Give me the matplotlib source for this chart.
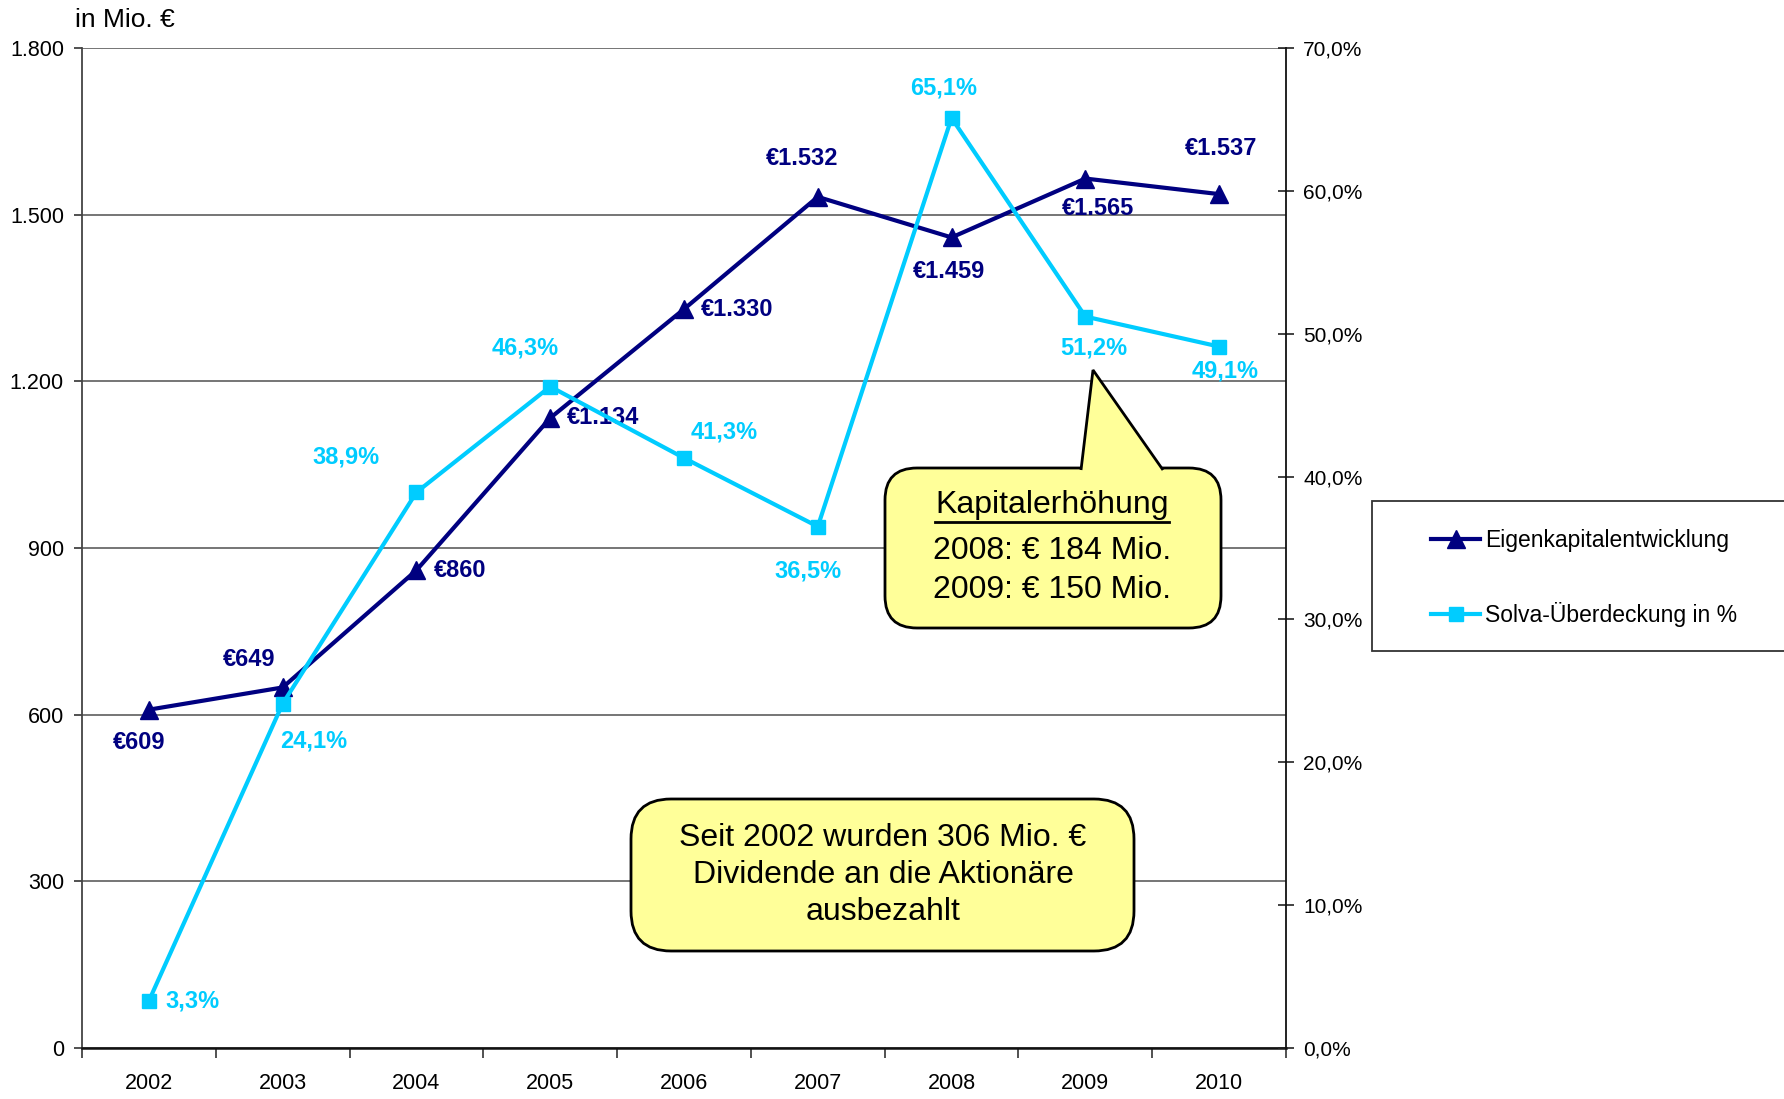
import numpy as np
import matplotlib
matplotlib.use('Agg')
import matplotlib.pyplot as plt
from matplotlib import font_manager
from matplotlib.patches import FancyBboxPatch, Polygon, Rectangle
from matplotlib.lines import Line2D
from matplotlib.transforms import IdentityTransform

# data
years = ['2002', '2003', '2004', '2005', '2006', '2007', '2008', '2009', '2010']
eigenkapital = [609, 649, 860, 1134, 1330, 1532, 1459, 1565, 1537]
solva = [3.3, 24.1, 38.9, 46.3, 41.3, 36.5, 65.1, 51.2, 49.1]
left_ticks = [0, 300, 600, 900, 1200, 1500, 1800]
right_ticks = [0, 10, 20, 30, 40, 50, 60, 70]

# label offsets in pixels (dx, dy, ha)
ek_offsets = [(-10, -33, 'center'), (-34, 28, 'center'), (17, 0, 'left'),
              (17, 1, 'left'), (17, 0, 'left'), (-16, 38, 'center'),
              (-3, -34, 'center'), (13, -30, 'center'), (2, 46, 'center')]
sv_offsets = [(17, 0, 'left'), (31, -37, 'center'), (-70, 35, 'center'),
              (-25, 39, 'center'), (40, 26, 'center'), (-10, -44, 'center'),
              (-8, 30, 'center'), (8, -31, 'center'), (6, -24, 'center')]

NAVY = '#000080'
CYAN = '#00CCFF'
YELLOW = '#FFFF99'

W, H = 1784, 1099
plt.rcParams['font.family'] = ['Liberation Sans', 'DejaVu Sans']

names = {f.name for f in font_manager.fontManager.ttflist}
if 'Liberation Sans Narrow' in names:
    lab_font = dict(family=['Liberation Sans Narrow', 'DejaVu Sans'], size=19)
else:
    lab_font = dict(family=['Liberation Sans', 'DejaVu Sans'], size=17)


def px(x, y):
    # top-left pixel coords -> display coords
    return (x, H - y)


fig = plt.figure(figsize=(W / 100, H / 100), dpi=100)
ax = fig.add_axes([82 / W, 1 - 1048 / H, (1286 - 82) / W, 1000 / H])
ax2 = ax.twinx()

x = np.arange(len(years))
ax.set_xlim(-0.5, len(years) - 0.5)
ax.set_ylim(0, 1800)
ax2.set_ylim(0, 70)

ax.set_yticks(left_ticks)
ax.set_yticklabels(['{:,}'.format(v).replace(',', '.') for v in left_ticks])
ax2.set_yticks(right_ticks)
ax2.set_yticklabels(['{:.1f}%'.format(v).replace('.', ',') for v in right_ticks])

ax.set_xticks(np.arange(-0.5, len(years)), labels=[])
ax.set_xticks(x, labels=years, minor=True)
ax.tick_params(axis='x', which='major', direction='out', length=7, width=1.2, color='#333333')
ax.tick_params(axis='x', which='minor', length=0, pad=18, labelsize=15.5)
ax.tick_params(axis='y', direction='out', length=6, width=1.2, color='#333333', pad=7, labelsize=15.5)
ax2.tick_params(axis='y', direction='inout', length=11, width=1.2, color='#222222', pad=7, labelsize=15)

ax.yaxis.grid(True, color='#6a6a6a', lw=1.3)
ax.set_axisbelow(True)
for s in ['top', 'right']:
    ax.spines[s].set_visible(False)
for s in ['top', 'left', 'bottom']:
    ax2.spines[s].set_visible(False)
ax.spines['left'].set_color('#444444')
ax.spines['left'].set_linewidth(1.3)
ax.spines['bottom'].set_color('#111111')
ax.spines['bottom'].set_linewidth(1.8)
ax2.spines['right'].set_color('#111111')
ax2.spines['right'].set_linewidth(1.3)

l1, = ax.plot(x, eigenkapital, color=NAVY, lw=3, marker='^', ms=13, zorder=3,
              label='Eigenkapitalentwicklung')
l2, = ax2.plot(x, solva, color=CYAN, lw=3, marker='s', ms=10, zorder=3,
               label='Solva-Überdeckung in %')

for xi, v, (dx, dy, ha) in zip(x, eigenkapital, ek_offsets):
    ax.annotate('€{:,}'.format(v).replace(',', '.'), (xi, v), xytext=(dx, dy),
                textcoords='offset pixels', ha=ha, va='center', color=NAVY,
                fontweight='bold', **lab_font)
for xi, v, (dx, dy, ha) in zip(x, solva, sv_offsets):
    ax2.annotate('{:.1f}%'.format(v).replace('.', ','), (xi, v), xytext=(dx, dy),
                 textcoords='offset pixels', ha=ha, va='center', color=CYAN,
                 fontweight='bold', **lab_font)

fig.text(75 / W, 1 - 20 / H, 'in Mio. €', fontsize=19, ha='left', va='center')

# legend box (clipped by the figure edge)
fig.add_artist(Rectangle(px(1372, 651), 500, 150, transform=IdentityTransform(),
                         facecolor='white', edgecolor='#333333', lw=1.3))
fig.legend(handles=[l1, l2], loc='center left', bbox_to_anchor=(1420 / W, 1 - 578 / H),
           frameon=False, fontsize=16.5, handlelength=2.1, handletextpad=0.25,
           labelspacing=2.2, borderpad=0)

# callout 1: Kapitalerhoehung
ident = IdentityTransform()
x0, y0, x1, y1 = 885, 468, 1221, 628
fig.add_artist(FancyBboxPatch(px(x0, y1), x1 - x0, y1 - y0,
                              boxstyle='round,pad=0,rounding_size=32',
                              transform=ident, facecolor=YELLOW, edgecolor='black', lw=2))
fig.add_artist(Polygon([px(1081, 470), px(1093, 370), px(1163, 470)], closed=False,
                       transform=ident, facecolor=YELLOW, edgecolor='black', lw=2))
t_head = fig.text(1052 / W, 1 - 505 / H, 'Kapitalerhöhung', fontsize=23, ha='center', va='center')
fig.text(1052 / W, 1 - 551 / H, '2008: € 184 Mio.', fontsize=23, ha='center', va='center')
fig.text(1052 / W, 1 - 590 / H, '2009: € 150 Mio.', fontsize=23, ha='center', va='center')

# callout 2: Dividende
x0, y0, x1, y1 = 631, 799, 1134, 951
fig.add_artist(FancyBboxPatch(px(x0, y1), x1 - x0, y1 - y0,
                              boxstyle='round,pad=0,rounding_size=40',
                              transform=ident, facecolor=YELLOW, edgecolor='black', lw=2))
fig.text(883 / W, 1 - 875 / H, 'Seit 2002 wurden 306 Mio. €\nDividende an die Aktionäre\nausbezahlt',
         fontsize=23, ha='center', va='center', linespacing=1.3)

# underline for the heading
fig.canvas.draw()
bb = t_head.get_window_extent()
fig.add_artist(Line2D([bb.x0, bb.x1], [H - 522, H - 522], transform=ident, color='black', lw=2))

fig.savefig('out.png', dpi=100)
